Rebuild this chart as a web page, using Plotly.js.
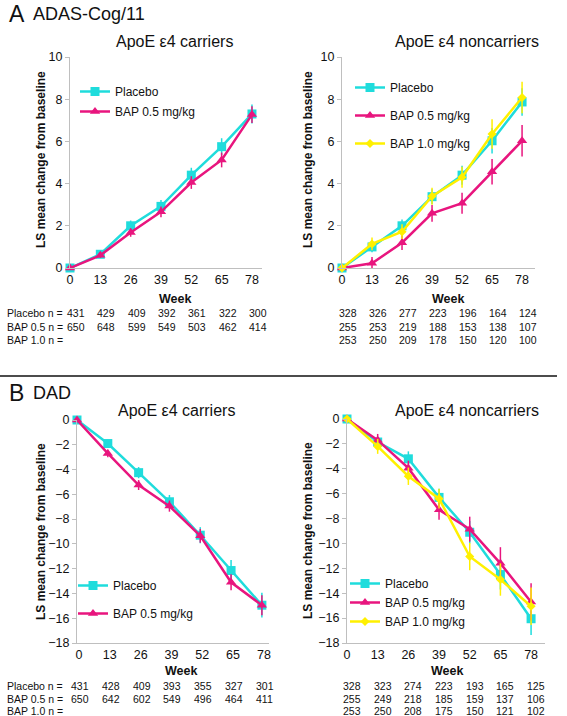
<!DOCTYPE html>
<html>
<head>
<meta charset="utf-8">
<script src="https://cdn.plot.ly/plotly-3.0.1.min.js"></script>
<style>html,body{margin:0;padding:0;background:#fff;}#chart{width:567px;height:716px;}</style>
</head>
<body>
<div id="chart"></div>
<script>
// ---------------- DATA ----------------
const weeks = [0, 13, 26, 39, 52, 65, 78];
const weekLabels = ['0', '13', '26', '39', '52', '65', '78'];
const seriesNames = ['Placebo', 'BAP 0.5 mg/kg', 'BAP 1.0 mg/kg'];
const nRowLabels = ['Placebo n =', 'BAP 0.5 n =', 'BAP 1.0 n ='];

// A: ADAS-Cog/11, ApoE e4 carriers
const adasCarPlacebo    = [0, 0.65, 2.0, 2.92, 4.4, 5.75, 7.3];
const adasCarPlaceboErr = [0, 0.15, 0.25, 0.3, 0.35, 0.4, 0.45];
const adasCarBap05      = [0, 0.6, 1.68, 2.66, 4.05, 5.12, 7.27];
const adasCarBap05Err   = [0, 0.12, 0.2, 0.25, 0.3, 0.35, 0.4];
// A: ADAS-Cog/11, ApoE e4 noncarriers
const adasNonPlacebo    = [0, 1.0, 2.0, 3.38, 4.4, 6.03, 7.87];
const adasNonPlaceboErr = [0, 0.25, 0.3, 0.35, 0.45, 0.6, 0.65];
const adasNonBap05      = [0, 0.22, 1.2, 2.59, 3.07, 4.56, 6.03];
const adasNonBap05Err   = [0, 0.3, 0.35, 0.4, 0.5, 0.6, 0.75];
const adasNonBap10      = [0, 1.14, 1.72, 3.4, 4.3, 6.35, 8.08];
const adasNonBap10Err   = [0, 0.3, 0.35, 0.4, 0.5, 0.7, 0.75];

// B: DAD, ApoE e4 carriers
const dadCarPlacebo    = [0, -1.9, -4.25, -6.6, -9.3, -12.15, -14.95];
const dadCarPlaceboErr = [0, 0.3, 0.45, 0.55, 0.65, 0.85, 1.0];
const dadCarBap05      = [0, -2.7, -5.25, -6.95, -9.35, -13.1, -14.95];
const dadCarBap05Err   = [0, 0.3, 0.4, 0.45, 0.55, 0.65, 0.8];
// B: DAD, ApoE e4 noncarriers
const dadNonPlacebo    = [0, -1.85, -3.2, -6.3, -9.1, -12.5, -16.05];
const dadNonPlaceboErr = [0, 0.4, 0.6, 0.7, 0.9, 1.2, 1.3];
const dadNonBap05      = [0, -1.7, -3.95, -7.3, -8.85, -11.6, -14.7];
const dadNonBap05Err   = [0, 0.5, 0.6, 0.8, 1.0, 1.3, 1.5];
const dadNonBap10      = [0, -2.2, -4.6, -6.4, -11.05, -12.9, -15.05];
const dadNonBap10Err   = [0, 0.6, 0.7, 0.8, 1.1, 1.3, 1.5];

// Patient numbers
const nAdasCarPlacebo = [431, 429, 409, 392, 361, 322, 300];
const nAdasCarBap05   = [650, 648, 599, 549, 503, 462, 414];
const nAdasNonPlacebo = [328, 326, 277, 223, 196, 164, 124];
const nAdasNonBap05   = [255, 253, 219, 188, 153, 138, 107];
const nAdasNonBap10   = [253, 250, 209, 178, 150, 120, 100];
const nDadCarPlacebo  = [431, 428, 409, 393, 355, 327, 301];
const nDadCarBap05    = [650, 642, 602, 549, 496, 464, 411];
const nDadNonPlacebo  = [328, 323, 274, 223, 193, 165, 125];
const nDadNonBap05    = [255, 249, 218, 185, 159, 137, 106];
const nDadNonBap10    = [253, 250, 208, 175, 150, 121, 102];

// ---------------- STYLE / LAYOUT ----------------
const W = 567, H = 716;
const FONT = '"Liberation Sans", Arial, Helvetica, sans-serif';
const px = v => v / W;
const py = v => 1 - v / H;
const C_PLA = '#1FDCDC', C_B05 = '#E8157E', C_B10 = '#FFF000';
const AXIS_GRAY = '#BFBFBF';

function series(name, y, err, color, symbol, size, xa, ya, leg, grp) {
  return {
    type: 'scatter', mode: 'lines+markers', name: name,
    x: weeks, y: y, xaxis: xa, yaxis: ya, legend: leg, legendgroup: grp,
    line: { color: color, width: 2.5 },
    marker: { color: color, symbol: symbol, size: size },
    error_y: { type: 'data', array: err, visible: true, color: color, thickness: 1.5, width: 0 },
    cliponaxis: false
  };
}

const data = [
  series(seriesNames[0], adasCarPlacebo, adasCarPlaceboErr, C_PLA, 'square', 9, 'x', 'y', 'legend', 'a1'),
  series(seriesNames[1], adasCarBap05, adasCarBap05Err, C_B05, 'triangle-up', 9, 'x', 'y', 'legend', 'a2'),
  series(seriesNames[0], adasNonPlacebo, adasNonPlaceboErr, C_PLA, 'square', 9, 'x2', 'y2', 'legend2', 'b1'),
  series(seriesNames[1], adasNonBap05, adasNonBap05Err, C_B05, 'triangle-up', 9, 'x2', 'y2', 'legend2', 'b2'),
  series(seriesNames[2], adasNonBap10, adasNonBap10Err, C_B10, 'diamond', 7, 'x2', 'y2', 'legend2', 'b3'),
  series(seriesNames[0], dadCarPlacebo, dadCarPlaceboErr, C_PLA, 'square', 9, 'x3', 'y3', 'legend3', 'c1'),
  series(seriesNames[1], dadCarBap05, dadCarBap05Err, C_B05, 'triangle-up', 9, 'x3', 'y3', 'legend3', 'c2'),
  series(seriesNames[0], dadNonPlacebo, dadNonPlaceboErr, C_PLA, 'square', 9, 'x4', 'y4', 'legend4', 'd1'),
  series(seriesNames[1], dadNonBap05, dadNonBap05Err, C_B05, 'triangle-up', 9, 'x4', 'y4', 'legend4', 'd2'),
  series(seriesNames[2], dadNonBap10, dadNonBap10Err, C_B10, 'diamond', 7, 'x4', 'y4', 'legend4', 'd3')
];

function xAxis(dom, range, shift, anchor) {
  return {
    domain: [px(dom[0]), px(dom[1])], range: range, anchor: anchor,
    tickvals: weeks, ticktext: weekLabels, ticks: '', ticklabelshift: shift,
    showline: true, linecolor: AXIS_GRAY, linewidth: 1,
    showgrid: false, zeroline: false, fixedrange: true,
    tickfont: { family: FONT, size: 12.5, color: '#111' }
  };
}
function yAxis(dom, range, anchor) {
  return {
    domain: [py(dom[0]), py(dom[1])], range: range, anchor: anchor, dtick: 2,
    ticks: 'outside', ticklen: 4, tickcolor: AXIS_GRAY, tickwidth: 1,
    showline: true, linecolor: AXIS_GRAY, linewidth: 1,
    showgrid: false, zeroline: false, fixedrange: true,
    tickfont: { family: FONT, size: 12.5, color: '#111' }
  };
}
function legendBox(left, top, gap) {
  return {
    x: px(left), y: py(top), xanchor: 'left', yanchor: 'top',
    bgcolor: 'rgba(0,0,0,0)', borderwidth: 0, itemwidth: 30,
    tracegroupgap: gap, font: { family: FONT, size: 12, color: '#111' }
  };
}

const annotations = [];
function txt(x, y, text, size, opts) {
  annotations.push(Object.assign({
    xref: 'paper', yref: 'paper', x: px(x), y: py(y), text: text, showarrow: false,
    xanchor: 'center', yanchor: 'middle',
    font: { family: FONT, size: size, color: '#111' }
  }, opts || {}));
}

// Panel letters and titles
txt(7, 14, 'A', 23, { xanchor: 'left' });
txt(31, 14, 'ADAS-Cog/11', 18, { xanchor: 'left' });
txt(7, 393, 'B', 23, { xanchor: 'left' });
txt(31, 393, 'DAD', 18, { xanchor: 'left' });
txt(174, 42, 'ApoE ε4 carriers', 16);
txt(467, 42, 'ApoE ε4 noncarriers', 16);
txt(176, 410, 'ApoE ε4 carriers', 16);
txt(467, 410, 'ApoE ε4 noncarriers', 16);

// Y titles
const yTitle = '<b>LS mean change from baseline</b>';
txt(41, 160, yTitle, 12, { textangle: -90 });
txt(308, 160, yTitle, 12, { textangle: -90 });
txt(41, 532, yTitle, 12, { textangle: -90 });
txt(308, 531, yTitle, 12, { textangle: -90 });

// Week labels
txt(175, 299, '<b>Week</b>', 12.5);
txt(448, 299, '<b>Week</b>', 12.5);
txt(181, 671, '<b>Week</b>', 12.5);
txt(447, 671, '<b>Week</b>', 12.5);

// n tables
function nRow(xa, vals, yPix, shift) {
  vals.forEach((v, i) => {
    annotations.push({
      xref: xa, yref: 'paper', x: weeks[i], y: py(yPix), xshift: shift,
      text: String(v), showarrow: false, xanchor: 'center', yanchor: 'middle',
      font: { family: FONT, size: 10.5, color: '#111' }
    });
  });
}
const topRows = [313, 326.5, 339.5];
const botRows = [686, 699, 711];
nRowLabels.forEach((t, i) => txt(5, topRows[i], t, 10.5, { xanchor: 'left' }));
nRowLabels.forEach((t, i) => txt(5, botRows[i], t, 10.5, { xanchor: 'left' }));
nRow('x', nAdasCarPlacebo, topRows[0], 6);
nRow('x', nAdasCarBap05, topRows[1], 6);
nRow('x2', nAdasNonPlacebo, topRows[0], 6);
nRow('x2', nAdasNonBap05, topRows[1], 6);
nRow('x2', nAdasNonBap10, topRows[2], 6);
nRow('x3', nDadCarPlacebo, botRows[0], 3);
nRow('x3', nDadCarBap05, botRows[1], 3);
nRow('x4', nDadNonPlacebo, botRows[0], 5);
nRow('x4', nDadNonBap05, botRows[1], 5);
nRow('x4', nDadNonBap10, botRows[2], 5);

const layout = {
  width: W, height: H, autosize: false,
  margin: { l: 0, r: 0, t: 0, b: 0, pad: 0 },
  paper_bgcolor: '#fff', plot_bgcolor: 'rgba(0,0,0,0)',
  font: { family: FONT, size: 12, color: '#111' },
  showlegend: true,
  xaxis: xAxis([70, 262], [0, 82.3], 4.5, 'y'),
  yaxis: yAxis([268, 57], [0, 10], 'x'),
  xaxis2: xAxis([342, 535], [0, 83.6], 4.5, 'y2'),
  yaxis2: yAxis([268, 57], [0, 10], 'x2'),
  xaxis3: xAxis([77, 269], [0, 81], 2, 'y3'),
  yaxis3: yAxis([643, 420], [-18, 0], 'x3'),
  xaxis4: xAxis([347, 545], [0, 83.9], 4.5, 'y4'),
  yaxis4: yAxis([643, 419], [-18, 0], 'x4'),
  legend: legendBox(75, 77, 1),
  legend2: legendBox(350, 73, 9),
  legend3: legendBox(73, 571, 9),
  legend4: legendBox(345, 569, 0),
  annotations: annotations,
  shapes: [{
    type: 'line', xref: 'paper', yref: 'paper',
    x0: 0, x1: px(557), y0: py(376), y1: py(376),
    line: { color: '#111', width: 1.5 }
  }]
};

Plotly.newPlot('chart', data, layout, { displayModeBar: false, staticPlot: true });
</script>
</body>
</html>
